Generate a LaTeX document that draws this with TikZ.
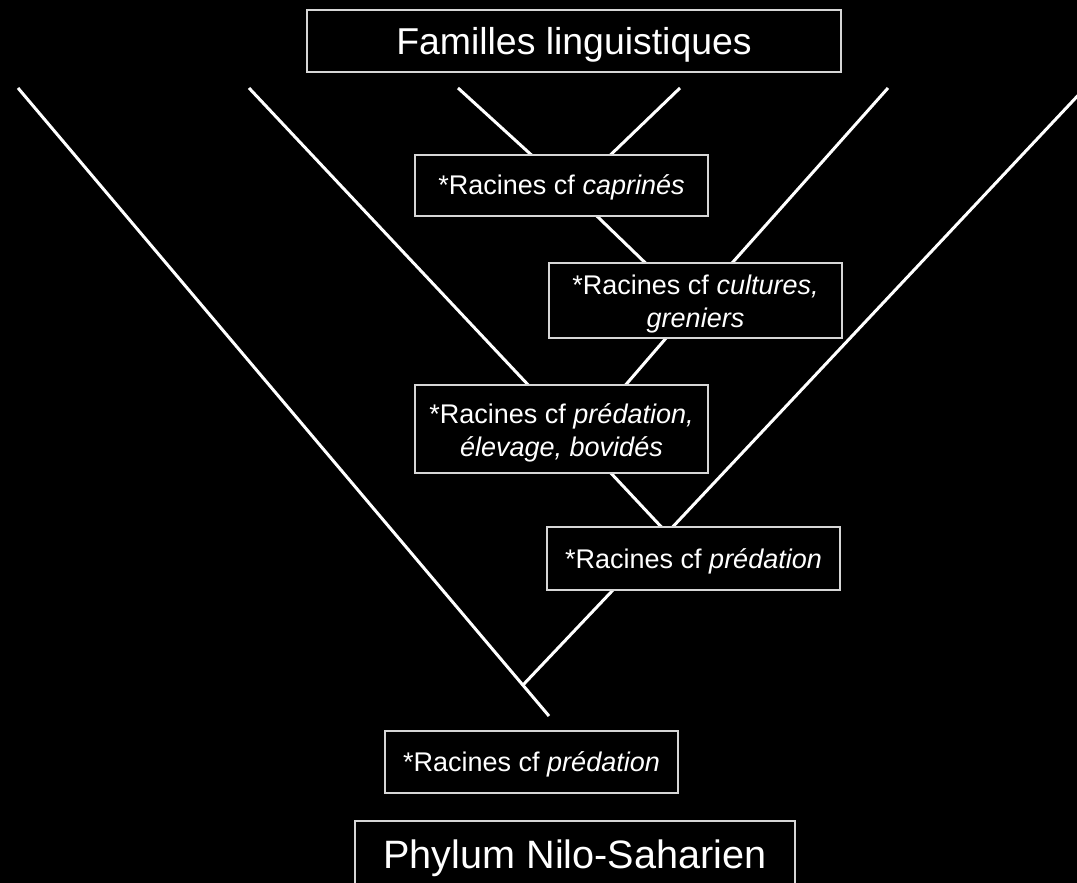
\documentclass[tikz,border=0pt]{standalone}
\usepackage{fontspec}
\setmainfont{Liberation Sans}
\usetikzlibrary{positioning}
\definecolor{boxline}{HTML}{D6D6D6}
\tikzset{
  branch/.style={draw=white, line width=1.5pt},
  rootbox/.style={draw=boxline, line width=1pt, fill=black, text=white,
    align=center, inner sep=0pt, minimum width=146.5pt,
    font=\fontsize{13.5}{16.5}\selectfont},
  onebox/.style={rootbox, text height=12.3pt, text depth=2.8pt},
  titlebox/.style={rootbox, minimum height=31pt, font=\fontsize{18.7}{22}\selectfont}
}
% strut pour descendre les boites a deux lignes
\newcommand{\lowstrut}{\rule{0pt}{13.4pt}}

\begin{document}
\begin{tikzpicture}[x=0.5pt, y=-0.5pt]
    \useasboundingbox (0,0) rectangle (1077,883);
    \fill[black] (0,0) rectangle (1077,883);
    \clip (0,0) rectangle (1077,883);

    % feuilles et embranchements
    \coordinate (lA) at (18,88);
    \coordinate (lB) at (249,88);
    \coordinate (lC) at (458,88);
    \coordinate (lD) at (680,88);
    \coordinate (lE) at (888,88);
    \coordinate (lF) at (1085,88);
    \coordinate (jCap) at (572,192);
    \coordinate (jCul) at (692,308);
    \coordinate (jEle) at (579,439);
    \coordinate (jPre) at (667,533);
    \coordinate (jRoot) at (523,685);
    \coordinate (base) at (549,716);

    \draw[branch] (lA) -- (base);
    \draw[branch] (lC) -- (jCap);
    \draw[branch] (lD) -- (jCap);
    \draw[branch] (jCap) -- (jCul);
    \draw[branch] (lE) -- (jCul);
    \draw[branch] (jCul) -- (jEle);
    \draw[branch] (lB) -- (jEle);
    \draw[branch] (jEle) -- (jPre);
    \draw[branch] (lF) -- (jPre);
    \draw[branch] (jPre) -- (jRoot);

    % boites
    \node[titlebox, minimum width=267pt, text height=17.9pt, text depth=3.9pt] (familles) at (574,41) {Familles linguistiques};
    \node[onebox, minimum height=30.5pt] (caprines) at (561.5,185.5) {*Racines cf \textit{caprinés}};
    \node[rootbox, minimum height=37.5pt] (cultures) at (695.5,300.5) {\lowstrut*Racines cf \textit{cultures,}\\\textit{greniers}};
    \node[rootbox, minimum height=44pt] (elevage) at (561.5,429) {\lowstrut*Racines cf \textit{prédation,}\\\textit{élevage, bovidés}};
    \node[onebox, minimum height=31.5pt] (predation) at (693.5,558.5) {*Racines cf \textit{prédation}};
    \node[onebox, minimum height=31pt] (racine) at (531.5,762) {*Racines cf \textit{prédation}};
    \node[titlebox, minimum width=220pt, minimum height=32pt, text height=19.2pt, text depth=4.2pt, font=\fontsize{19.8}{23}\selectfont] (phylum) at (575,853) {Phylum Nilo-Saharien};
  \end{tikzpicture}
\end{document}
